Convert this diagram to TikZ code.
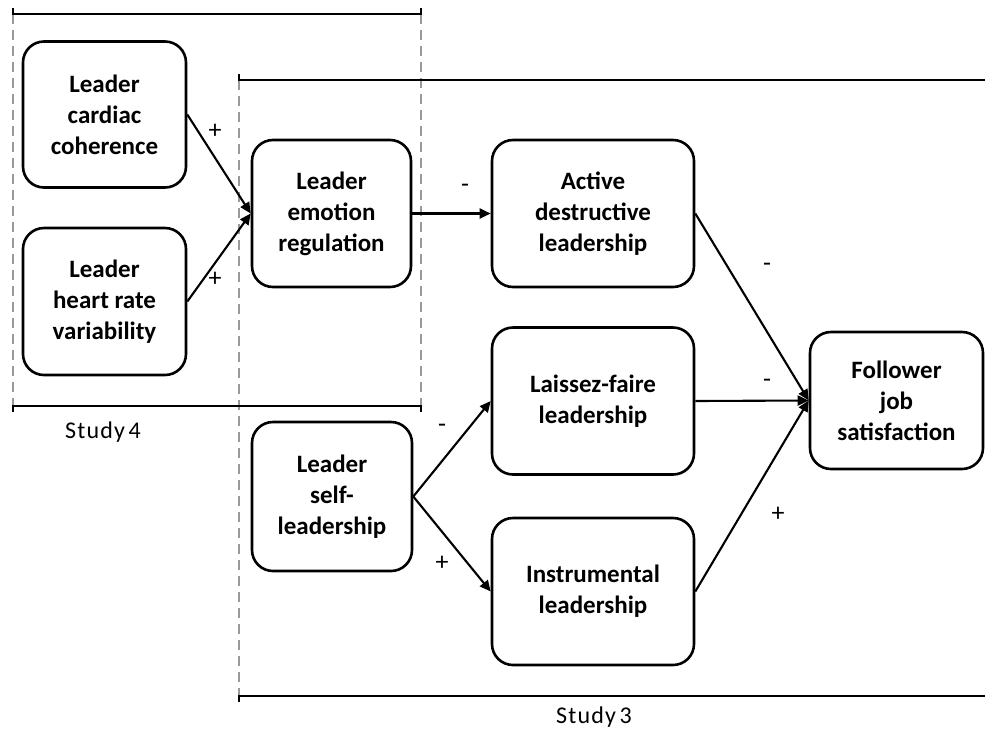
\documentclass[tikz,border=0pt]{standalone}
\usepackage{fontspec}
\setmainfont{Carlito}
\usetikzlibrary{arrows.meta}
\begin{document}
\begin{tikzpicture}[x=1pt,y=-1pt,
  varbox/.style={draw=black, line width=2.6pt, rounded corners=21pt, fill=white,
    align=center, font=\fontsize{25}{31}\selectfont\bfseries, inner sep=0pt},
  path/.style={line width=2.1pt, -{Triangle[length=11pt,width=10pt]}},
  frame/.style={line width=2.8pt, black},
  side/.style={line width=2.3pt, gray!80, dash pattern=on 10pt off 6pt},
  sign/.style={font=\fontsize{26}{30}\selectfont, inner sep=0pt},
  study/.style={font=\fontsize{24}{28}\addfontfeature{LetterSpace=5}\selectfont, inner sep=0pt}]
\useasboundingbox (0,0) rectangle (985,729);

% frame of Study 4
\coordinate (s4tl) at (13,14);
\coordinate (s4tr) at (421,14);
\coordinate (s4bl) at (13,406);
\coordinate (s4br) at (421,406);
% frame of Study 3 (open on the right)
\coordinate (s3tl) at (239,80);
\coordinate (s3tr) at (985,80);
\coordinate (s3bl) at (239,696);
\coordinate (s3br) at (985,696);

\draw[side] (s4tl) -- (s4bl);
\draw[side] (s4tr) -- (s4br);
\draw[side] (s3tl) -- (s3bl);
\draw[frame] ([yshift=6pt]s4tl) -- (s4tl) -- (s4tr) -- ([yshift=6pt]s4tr);
\draw[frame] ([yshift=-6pt]s4bl) -- (s4bl) -- (s4br) -- ([yshift=-6pt]s4br);
\draw[frame] ([yshift=6pt]s3tl) -- (s3tl) -- (s3tr);
\draw[frame] ([yshift=-6pt]s3bl) -- (s3bl) -- (s3br);

\node[study] (lab4) at (103,432) {Study\hspace{-3pt} 4};
\node[study] (lab3) at (594,717) {Study\hspace{-3pt} 3};

% variables
\node[varbox, minimum width=163pt, minimum height=146pt] (coh) at (104.5,114.5) {Leader\\cardiac\\coherence};
\node[varbox, minimum width=163pt, minimum height=147pt] (hrv) at (104.5,301.5) {Leader\\heart rate\\variability};
\node[varbox, minimum width=159pt, minimum height=147pt] (emo) at (331.5,213.5) {Leader\\emotion\\regulation};
\node[varbox, minimum width=160pt, minimum height=149pt] (self) at (332,496.5) {Leader\\self-\\leadership};
\node[varbox, minimum width=202pt, minimum height=147pt] (act) at (593,213.5) {Active\\destructive\\leadership};
\node[varbox, minimum width=202pt, minimum height=147pt] (lai) at (593,401) {Laissez-faire\\leadership};
\node[varbox, minimum width=202pt, minimum height=147pt] (ins) at (593,591.5) {Instrumental\\leadership};
\node[varbox, minimum width=173pt, minimum height=137pt] (fol) at (896.5,400.5) {Follower\\job\\satisfaction};

% paths
\draw[path] (coh.east) -- (emo.west);
\draw[path] (hrv.east) -- (emo.west);
\draw[path] (emo.east) -- (act.west);
\draw[path] (self.east) -- (lai.west);
\draw[path] (self.east) -- (ins.west);
\draw[path] (act.east) -- (fol.west);
\draw[path] (lai.east) -- (fol.west);
\draw[path] (ins.east) -- (fol.west);

% signs
\node[sign] (p1) at (215,131) {+};
\node[sign] (p2) at (215,279) {+};
\node[sign] (m1) at (465,188) {-};
\node[sign] (m2) at (442,428) {-};
\node[sign] (p3) at (442,563) {+};
\node[sign] (m3) at (767,267) {-};
\node[sign] (m4) at (767,383) {-};
\node[sign] (p4) at (778,514) {+};
\end{tikzpicture}
\end{document}
